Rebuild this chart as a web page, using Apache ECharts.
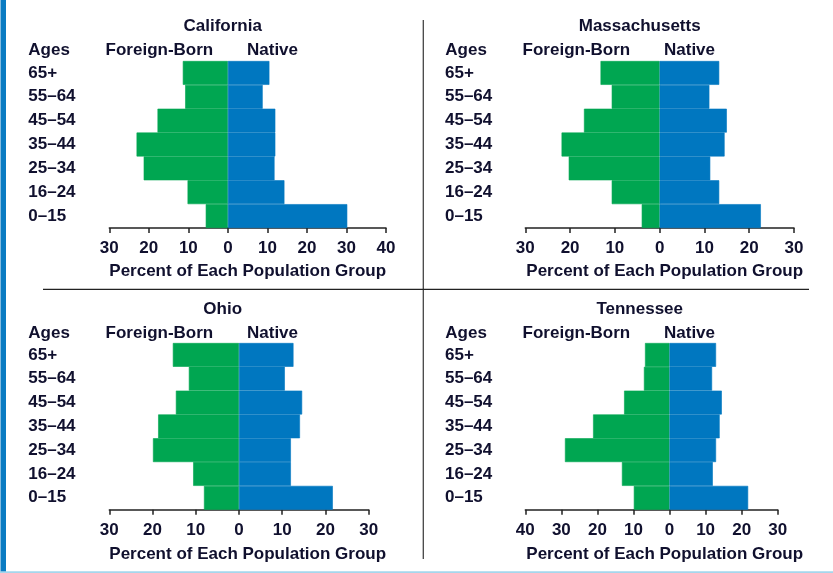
<!DOCTYPE html>
<html>
<head>
<meta charset="utf-8">
<script src="https://cdn.jsdelivr.net/npm/echarts@6/dist/echarts.min.js"></script>
<style>
  html, body { margin: 0; padding: 0; background: #fff; }
  #chart { width: 833px; height: 573px; }
</style>
</head>
<body>
<div id="chart"></div>
<script>
// age groups, bottom to top
const ages = ['0–15', '16–24', '25–34', '35–44', '45–54', '55–64', '65+'];

// percent of each population group (same order as ages)
const caForeign = [5.6, 10.2, 21.3, 23.1, 17.8, 10.8, 11.4];
const caNative  = [30.2, 14.3, 11.8, 12.0, 12.0, 8.8, 10.5];
const maForeign = [4.0, 10.7, 20.3, 21.9, 16.9, 10.7, 13.2];
const maNative  = [22.6, 13.3, 11.3, 14.5, 15.0, 11.1, 13.3];
const ohForeign = [8.1, 10.6, 19.9, 18.7, 14.6, 11.6, 15.3];
const ohNative  = [21.7, 12.0, 12.0, 14.1, 14.6, 10.6, 12.6];
const tnForeign = [9.9, 13.2, 29.0, 21.2, 12.6, 7.1, 6.8];
const tnNative  = [21.8, 12.0, 12.9, 13.9, 14.5, 11.8, 12.9];

const states = ['California', 'Massachusetts', 'Ohio', 'Tennessee'];
const axisMin = [-30, -30, -30, -40];
const axisMax = [40, 30, 30, 30];

const GREEN = '#00a651';
const BLUE = '#0077c0';
const INK = '#10102e';
const FONT = "'Liberation Sans', Arial, sans-serif";

// panel layout
const panels = [
  { foreign: caForeign, native: caNative, left: 109.3, width: 276.7, top: 61, height: 167, col: 0, row: 0 },
  { foreign: maForeign, native: maNative, left: 525.3, width: 268.7, top: 61, height: 167, col: 1, row: 0 },
  { foreign: ohForeign, native: ohNative, left: 109.3, width: 259.4, top: 343, height: 166.7, col: 0, row: 1 },
  { foreign: tnForeign, native: tnNative, left: 525.3, width: 252.4, top: 343, height: 166.7, col: 1, row: 1 }
];

const txt = (x, y, text, align) => ({
  type: 'text', x: x, y: y,
  style: { text: text, fill: INK, font: 'bold 17px ' + FONT, textAlign: align || 'left', textVerticalAlign: 'middle' }
});

const grids = [], xAxes = [], yAxes = [], series = [], graphics = [];

panels.forEach((p, i) => {
  grids.push({ left: p.left, top: p.top, width: p.width, height: p.height });

  xAxes.push({
    type: 'value', gridIndex: i, min: axisMin[i], max: axisMax[i], interval: 10,
    axisLine: { show: true, lineStyle: { color: '#222', width: 1.5 } },
    axisTick: { show: true, length: 5, lineStyle: { color: '#222', width: 1.5 } },
    splitLine: { show: false },
    axisLabel: {
      formatter: v => Math.abs(v), color: INK, fontSize: 17, fontWeight: 'bold',
      fontFamily: FONT, margin: 12
    }
  });

  yAxes.push({
    type: 'category', gridIndex: i, data: ages,
    axisLine: { show: false }, axisTick: { show: false },
    axisLabel: {
      align: 'left', margin: p.left - (p.col ? 445 : 28.3), color: INK,
      fontSize: 17, fontWeight: 'bold', fontFamily: FONT
    }
  });

  series.push({
    name: 'Foreign-Born', type: 'bar', stack: 's' + i, xAxisIndex: i, yAxisIndex: i,
    data: p.foreign.map(v => -v), barCategoryGap: 0, silent: true,
    itemStyle: { color: GREEN, borderColor: GREEN, borderWidth: 0.6 }
  });
  series.push({
    name: 'Native', type: 'bar', stack: 's' + i, xAxisIndex: i, yAxisIndex: i,
    data: p.native, barCategoryGap: 0, silent: true,
    itemStyle: { color: BLUE, borderColor: BLUE, borderWidth: 0.6 }
  });

  // texts above and below each panel
  const dx = p.col ? 417 : 0;
  const dy = p.row ? 283 : 0;
  graphics.push(txt(222.7 + dx, 26 + dy, states[i], 'center'));
  graphics.push(txt(28.3 + dx, 50 + dy, 'Ages'));
  graphics.push(txt(105.6 + dx, 50 + dy, 'Foreign-Born'));
  graphics.push(txt(247 + dx, 50 + dy, 'Native'));
  graphics.push(txt(109.3 + dx, 271.5 + dy, 'Percent of Each Population Group'));
});

// frame and separators
graphics.push(
  { type: 'rect', shape: { x: 0.5, y: 0, width: 5.5, height: 573 }, style: { fill: '#0a7bc2' } },
  { type: 'rect', shape: { x: 0, y: 571.3, width: 833, height: 1.7 }, style: { fill: '#a5d6ec' } },
  { type: 'line', shape: { x1: 423.3, y1: 20, x2: 423.3, y2: 559 }, style: { stroke: '#444', lineWidth: 1.3 } },
  { type: 'line', shape: { x1: 43, y1: 289.3, x2: 809, y2: 289.3 }, style: { stroke: '#222', lineWidth: 1.3 } }
);

const chart = echarts.init(document.getElementById('chart'), null, { renderer: 'canvas' });
chart.setOption({
  animation: false,
  backgroundColor: '#fff',
  grid: grids,
  xAxis: xAxes,
  yAxis: yAxes,
  series: series,
  graphic: graphics
});
</script>
</body>
</html>
